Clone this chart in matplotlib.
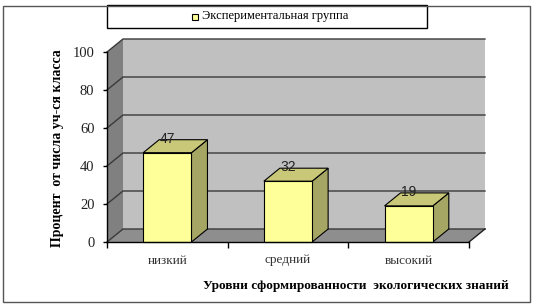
import matplotlib
matplotlib.use("Agg")
import matplotlib.pyplot as plt
from matplotlib.patches import Polygon, Rectangle
from matplotlib.transforms import IdentityTransform

# data
categories = ["низкий", "средний", "высокий"]
values = [47, 32, 19]
series_name = "Экспериментальная группа"
y_ticks = [0, 20, 40, 60, 80, 100]
x_title = "Уровни сформированности  экологических знаний"
y_title = "Процент  от числа уч-ся класса"

W, H = 536, 308
DX, DY = 16, 13      # depth of the fake 3d box, pixels
BAR_W = 0.4

serif = "Liberation Serif"
sans = "Liberation Sans"

fig = plt.figure(figsize=(W / 100, H / 100), dpi=100)
ax = fig.add_axes([107 / W, 66 / H, 362 / W, 190 / H])
n = len(categories)
ax.set_xlim(0, n)
ax.set_ylim(0, 100)
ax.patch.set_visible(False)


def pt(x, y, d):
    # data point on the front plane (d=0) or back plane (d=1) -> pixels
    px, py = ax.transData.transform((x, y))
    return (px + d * DX, py + d * DY)


def face(corners, color, z, ec="none", lw=0.8):
    p = Polygon([pt(*c) for c in corners], closed=True, facecolor=color,
                edgecolor=ec, linewidth=lw, transform=IdentityTransform(),
                clip_on=False, zorder=z)
    ax.add_patch(p)


# walls and floor
face([(0, 0, 1), (n, 0, 1), (n, 100, 1), (0, 100, 1)], "#c0c0c0", 0.5)
face([(0, 0, 0), (0, 100, 0), (0, 100, 1), (0, 0, 1)], "#808080", 0.5)
face([(0, 0, 0), (n, 0, 0), (n, 0, 1), (0, 0, 1)], "#8e8e8e", 0.6)

# gridlines on the walls
for t in y_ticks:
    xs, ys = zip(*[pt(0, t, 0), pt(0, t, 1), pt(n, t, 1)])
    ax.plot(xs, ys, color="#3a3a3a", lw=1, transform=IdentityTransform(),
            clip_on=False, zorder=0.7)
# right edge of the floor
xs, ys = zip(*[pt(n, 0, 0), pt(n, 0, 1)])
ax.plot(xs, ys, color="#202020", lw=1, transform=IdentityTransform(),
        clip_on=False, zorder=0.7)

# bars
for i, v in enumerate(values):
    x0 = i + 0.5 - BAR_W / 2
    x1 = i + 0.5 + BAR_W / 2
    face([(x1, 0, 0), (x1, v, 0), (x1, v, 1), (x1, 0, 1)], "#a6a664", 1, ec="black")
    face([(x0, v, 0), (x1, v, 0), (x1, v, 1), (x0, v, 1)], "#c8c878", 1, ec="black")
    face([(x0, 0, 0), (x1, 0, 0), (x1, v, 0), (x0, v, 0)], "#ffff99", 1.1, ec="black")
    ax.annotate(str(v), (i + 0.5, v), xytext=(0, 14), textcoords="offset pixels",
                ha="center", va="center", fontsize=10, family=sans,
                color="#222222", zorder=3)

# axes
for s in ["top", "right"]:
    ax.spines[s].set_visible(False)
ax.spines["left"].set_linewidth(1)
ax.spines["bottom"].set_linewidth(1)
ax.set_yticks(y_ticks)
ax.set_yticklabels([str(t) for t in y_ticks], family=serif, fontsize=10.5,
                   color="#222222")
ax.tick_params(axis="y", direction="out", length=3, width=1, pad=6)
ax.set_xticks(range(n + 1))
ax.set_xticklabels([""] * (n + 1))
ax.tick_params(axis="x", direction="out", length=4, width=1)
ax.set_xticks([i + 0.5 for i in range(n)], minor=True)
ax.set_xticklabels(categories, minor=True, family=serif, fontsize=9.5,
                   color="#333333")
ax.tick_params(axis="x", which="minor", length=0, pad=9)

# titles
fig.text(356 / W, 1 - 286 / H, x_title, ha="center", va="center",
         family=serif, fontsize=9.5, fontweight="bold")
fig.text(58 / W, 1 - 148 / H, y_title, ha="center", va="center", rotation=90,
         family=serif, fontsize=10, fontweight="bold")

# legend box
fig.add_artist(Rectangle((107 / W, 1 - 28 / H), 320 / W, 23 / H, fill=False,
                         edgecolor="black", lw=1, transform=fig.transFigure))
fig.add_artist(Rectangle((192 / W, 1 - 19.5 / H), 6 / W, 6 / H, facecolor="#ffff99",
                         edgecolor="black", lw=0.8, transform=fig.transFigure))
fig.text(202 / W, 1 - 16.5 / H, series_name, ha="left", va="center",
         family=serif, fontsize=9)

# outer border
fig.add_artist(Rectangle((3 / W, 6 / H), 527 / W, 296 / H, fill=False,
                         edgecolor="#555555", lw=1, transform=fig.transFigure))

fig.savefig("out.png", dpi=100)
